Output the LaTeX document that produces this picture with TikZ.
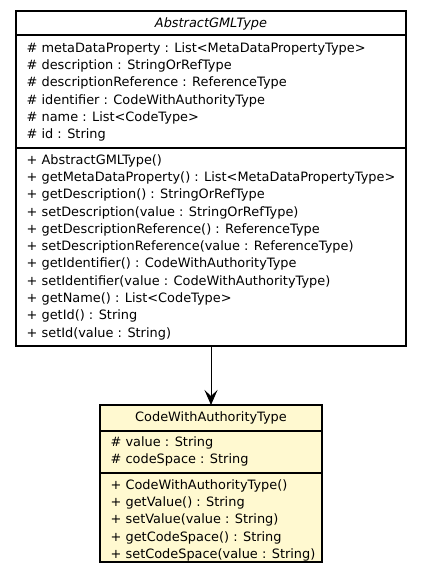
\documentclass[tikz,border=0pt]{standalone}
\usepackage{fontspec}
\setmainfont{DejaVu Sans}
\usetikzlibrary{arrows.meta}
\definecolor{classfill}{RGB}{255,249,208}
\tikzset{
  boxline/.style={draw=black, line width=1.1pt},
  member/.style={anchor=base west, inner sep=0pt, font=\fontsize{12.9}{15}\selectfont},
  titletext/.style={anchor=base, inner sep=0pt, font=\fontsize{12.9}{15}\selectfont},
  dep/.style={draw=black, line width=1pt, -{Stealth[length=15pt,width=13pt,inset=6pt]}}
}
\begin{document}
\begin{tikzpicture}[x=1pt,y=-1pt]
\useasboundingbox (0,0) rectangle (423,579);
% top class
\draw[boxline, fill=white] (16,11) rectangle (406,346);
\coordinate (topbottom) at (211,346);
\draw[boxline] (16,35) -- (406,35);
\draw[boxline] (16,148) -- (406,148);
\node[titletext] (t0) at (211,27.5) {\itshape AbstractGMLType};
\foreach \i/\txt in {0/{\# metaDataProperty : List<MetaDataPropertyType>},
  1/{\# description : StringOrRefType},
  2/{\# descriptionReference : ReferenceType},
  3/{\# identifier : CodeWithAuthorityType},
  4/{\# name : List<CodeType>},
  5/{\# id : String}}
  \node[member] (ta\i) at (26.5,52.5+17.2*\i) {\txt};
\foreach \i/\txt in {0/{+ AbstractGMLType()},
  1/{+ getMetaDataProperty() : List<MetaDataPropertyType>},
  2/{+ getDescription() : StringOrRefType},
  3/{+ setDescription(value : StringOrRefType)},
  4/{+ getDescriptionReference() : ReferenceType},
  5/{+ setDescriptionReference(value : ReferenceType)},
  6/{+ getIdentifier() : CodeWithAuthorityType},
  7/{+ setIdentifier(value : CodeWithAuthorityType)},
  8/{+ getName() : List<CodeType>},
  9/{+ getId() : String},
  10/{+ setId(value : String)}}
  \node[member] (tm\i) at (26.5,164.3+17.27*\i) {\txt};
% bottom class
\draw[boxline, fill=classfill] (100,405) rectangle (322,562);
\coordinate (bottomtop) at (211,405);
\draw[boxline] (100,431) -- (322,431);
\draw[boxline] (100,473) -- (322,473);
\node[titletext] (b0) at (211,421) {CodeWithAuthorityType};
\node[member] (ba0) at (110.5,446.5) {\# value : String};
\node[member] (ba1) at (110.5,463.6) {\# codeSpace : String};
\foreach \i/\txt in {0/{+ CodeWithAuthorityType()},
  1/{+ getValue() : String},
  2/{+ setValue(value : String)},
  3/{+ getCodeSpace() : String},
  4/{+ setCodeSpace(value : String)}}
  \node[member] (bm\i) at (110.5,489.2+17.3*\i) {\txt};
% dependency
\draw[dep] (topbottom) -- (bottomtop);
\end{tikzpicture}
\end{document}
